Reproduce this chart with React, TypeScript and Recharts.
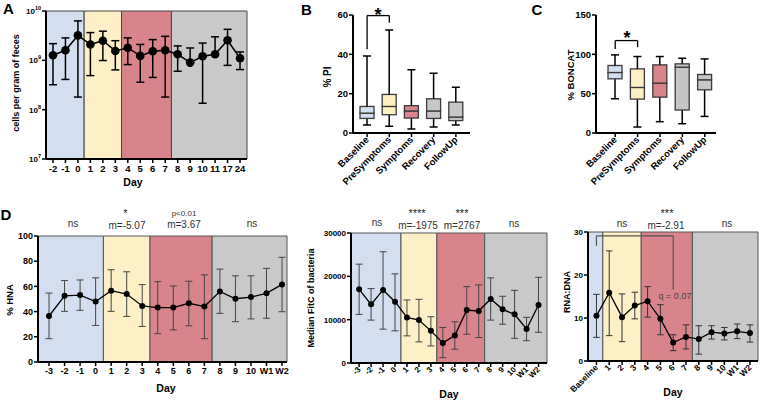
import React from "react";
import {
  LineChart,
  Line,
  XAxis,
  YAxis,
  ErrorBar,
  ReferenceArea,
  ReferenceLine,
  BarChart,
  Bar,
} from "recharts";

const FONT = '"Liberation Sans", Arial, Helvetica, sans-serif';

// ---- A: total cells per gram of feces ----
const A_DAYS = ["-2", "-1", "0", "1", "2", "3", "4", "5", "6", "7", "8", "9", "10", "11", "17", "24"];
const A_MEAN = [1.27e9, 1.6e9, 3.2e9, 2.1e9, 2.5e9, 1.55e9, 1.8e9, 1.23e9, 1.53e9, 1.6e9, 1.33e9, 9.0e8, 1.21e9, 1.33e9, 2.55e9, 1.1e9];
const A_LOW = [3.2e8, 4.1e8, 1.8e8, 4.9e8, 9.9e8, 6.4e8, 8.2e8, 3.6e8, 4.5e8, 1.8e8, 6.0e8, 9.0e8, 1.35e8, 1.33e9, 7.9e8, 6.5e8];
const A_HIGH = [2.18e9, 2.85e9, 6.3e9, 3.65e9, 3.9e9, 2.5e9, 2.85e9, 2.1e9, 2.63e9, 3.07e9, 1.96e9, 1.78e9, 2.24e9, 3.0e9, 4.25e9, 1.48e9];
const A_PHASES = [["-2", "0"], ["1", "3"], ["4", "7"], ["8", "24"]];

// ---- B / C: box plots per phase ----
const GROUPS = ["Baseline", "PreSymptoms", "Symptoms", "Recovery", "FollowUp"];
const PI_MIN = [4.1, 3.4, 2.0, 3.0, 4.1];
const PI_Q1 = [7.4, 9.3, 7.6, 7.4, 6.3];
const PI_MED = [10.1, 13.5, 11.2, 11.2, 8.1];
const PI_Q3 = [13.5, 19.6, 13.9, 17.4, 15.7];
const PI_MAX = [39.2, 52.4, 32.1, 30.4, 23.2];

const BC_MIN = [43.5, 7.6, 14.4, 11.8, 21.1];
const BC_Q1 = [68.9, 43.1, 45.6, 29.2, 54.9];
const BC_MED = [76.9, 57.9, 63.4, 83.7, 67.6];
const BC_Q3 = [85.8, 81.5, 86.6, 87.9, 74.4];
const BC_MAX = [99.3, 97.2, 97.2, 95.0, 94.2];

const PI_BRACKET = [
  { x: "Baseline", y: 42.6 },
  { x: "Baseline", y: 59.7 },
  { x: "PreSymptoms", y: 59.7 },
  { x: "PreSymptoms", y: 56.1 },
];
const BC_BRACKET = [
  { x: "Baseline", y: 106.9 },
  { x: "Baseline", y: 117.5 },
  { x: "PreSymptoms", y: 117.5 },
  { x: "PreSymptoms", y: 109 },
];

// ---- D: time courses ----
const D_DAYS = ["-3", "-2", "-1", "0", "1", "2", "3", "4", "5", "6", "7", "8", "9", "10", "W1", "W2"];
const D_PHASES = [["-3", "0"], ["1", "3"], ["4", "7"], ["8", "W2"]];

const HNA_MEAN = [36.5, 52.5, 53.1, 48.0, 56.6, 53.9, 44.5, 43.2, 43.2, 46.6, 44.0, 56.0, 50.2, 51.5, 54.5, 61.6];
const HNA_LOW = [18.5, 40.2, 41.0, 29.0, 40.2, 36.2, 28.2, 22.5, 25.5, 28.7, 18.5, 38.6, 32.0, 34.2, 34.7, 39.9];
const HNA_HIGH = [54.7, 64.6, 65.1, 66.8, 73.2, 71.6, 61.4, 63.8, 60.3, 64.1, 69.2, 73.7, 68.4, 68.4, 74.3, 83.1];

const FITC_MEAN = [17010, 13530, 16860, 14150, 10520, 9900, 7420, 4640, 6340, 12220, 11990, 14770, 12380, 11230, 7850, 13390];
const FITC_LOW = [11210, 9900, 7810, 7420, 6260, 4870, 3940, 1240, 3170, 6650, 5880, 9900, 8950, 5690, 5150, 7080];
const FITC_HIGH = [22810, 17170, 25670, 20570, 14540, 14690, 10670, 8200, 9510, 17630, 18020, 19640, 15400, 16770, 10540, 19770];

const R_DAYS = ["Baseline", "1", "2", "3", "4", "5", "6", "7", "8", "9", "10", "W1", "W2"];
const R_PHASES = [["Baseline", "Baseline"], ["1", "3"], ["4", "7"], ["8", "W2"]];
const RD_MEAN = [10.5, 15.9, 10.2, 12.9, 13.9, 9.8, 4.3, 5.6, 5.1, 6.7, 6.4, 6.9, 6.5];
const RD_LOW = [5.5, 5.9, 4.5, 9.8, 10.2, 6.1, 2.4, 2.8, 1.6, 5.1, 4.9, 5.2, 4.4];
const RD_HIGH = [15.5, 25.6, 15.6, 16.0, 17.3, 13.1, 6.1, 8.4, 8.2, 8.2, 7.8, 8.6, 8.4];
const RD_BRACKET = [
  { day: "Baseline", y: 26.8 },
  { day: "Baseline", y: 29.1 },
  { day: "6", y: 29.1 },
  { day: "6", y: 16.6 },
];

const PHASE_COLORS = ["#d3dff1", "#fef0c6", "#d8848a", "#c9c9c9"];
const BOX_COLORS = ["#d3dff1", "#fdefc4", "#d8848a", "#c6c6c6", "#c6c6c6"];

const AX = { stroke: "#000", strokeWidth: 2 };
const TL = { stroke: "#000", strokeWidth: 1.5 };
const tickStyle = (size: number) => ({ fontSize: size, fontWeight: 700, fill: "#000", fontFamily: FONT });

function PowTick(props: any) {
  const { x, y, payload } = props;
  const exp = Math.round(Math.log10(payload.value));
  return (
    <text x={x} y={y} dy={3} textAnchor="end" fontFamily={FONT} fontWeight={700} fontSize={8} fill="#000">
      <tspan>10</tspan>
      <tspan dy={-4} fontSize={5.5}>{exp}</tspan>
    </text>
  );
}

function RotTick(props: any) {
  const { x, y, payload, labels, size } = props;
  const text = labels ? labels[payload.value] : payload.value;
  return (
    <g transform={`translate(${x},${y})`}>
      <text x={0} y={0} dy="0.35em" textAnchor="end" transform="rotate(-45)" fontFamily={FONT} fontWeight={700} fontSize={size} fill="#000">
        {text}
      </text>
    </g>
  );
}

function phaseAreas(labels: string[], phases: string[][], domain: number[], yDomain: number[], stroke: string) {
  return phases.map(([a, b], k) => (
    <ReferenceArea
      key={`ph-${k}`}
      x1={k === 0 ? domain[0] : labels.indexOf(a) - 0.5}
      x2={k === phases.length - 1 ? domain[1] : labels.indexOf(b) + 0.5}
      y1={yDomain[0]}
      y2={yDomain[1]}
      fill={PHASE_COLORS[k]}
      fillOpacity={1}
      stroke={stroke}
      strokeWidth={1}
    />
  ));
}

function TimeCourse(p: any) {
  const rows = p.labels.map((_: string, i: number) => ({
    i,
    v: p.mean[i],
    err: [p.mean[i] - p.low[i], p.high[i] - p.mean[i]],
  }));
  return (
    <div style={{ position: "absolute", left: p.left, top: p.top }}>
      <LineChart width={p.width} height={p.height} data={rows} margin={p.margin}>
        {phaseAreas(p.labels, p.phases, p.xDomain, p.yDomain, p.frame)}
        {p.extra}
        <XAxis
          type="number"
          dataKey="i"
          domain={p.xDomain}
          ticks={rows.map((r: any) => r.i)}
          interval={0}
          allowDataOverflow
          height={p.xHeight}
          axisLine={AX}
          tickLine={TL}
          tickSize={4}
          tickMargin={p.rotate ? 1 : 2}
          tickFormatter={(v: number) => p.labels[v]}
          tick={p.rotate ? (t: any) => <RotTick {...t} labels={p.labels} size={p.xFont} /> : tickStyle(p.xFont)}
        />
        <YAxis
          type="number"
          scale={p.log ? "log" : "linear"}
          domain={p.yDomain}
          ticks={p.yTicks}
          interval={0}
          allowDataOverflow
          width={p.yWidth}
          axisLine={AX}
          tickLine={TL}
          tickSize={4}
          tickMargin={1}
          tick={p.log ? (t: any) => <PowTick {...t} /> : tickStyle(p.yFont)}
        />
        <Line
          dataKey="v"
          stroke="#000"
          strokeWidth={p.lineWidth}
          dot={{ r: p.dotR, fill: "#000", stroke: "#000", strokeWidth: 0 }}
          activeDot={false}
          isAnimationActive={false}
        >
          <ErrorBar dataKey="err" width={p.cap} strokeWidth={p.errWidth} stroke={p.errColor} direction="y" />
        </Line>
      </LineChart>
    </div>
  );
}

const whisker = (top: boolean) => (s: any) => {
  const cx = s.x + s.width / 2;
  const yc = top ? s.y : s.y + s.height;
  return (
    <g>
      <line x1={cx} x2={cx} y1={s.y} y2={s.y + s.height} stroke="#000" strokeWidth={1.5} />
      <line x1={cx - 4} x2={cx + 4} y1={yc} y2={yc} stroke="#000" strokeWidth={1.5} />
    </g>
  );
};

const boxPart = (s: any) => (
  <rect
    x={s.x}
    y={s.y}
    width={s.width}
    height={s.height}
    fill={BOX_COLORS[GROUPS.indexOf(s.payload.name)]}
    stroke="#3a3a3a"
    strokeWidth={1.3}
  />
);

function BoxPanel(p: any) {
  const rows = GROUPS.map((name, i) => ({
    name,
    base: p.min[i],
    w1: p.q1[i] - p.min[i],
    b1: p.med[i] - p.q1[i],
    b2: p.q3[i] - p.med[i],
    w2: p.max[i] - p.q3[i],
  }));
  return (
    <div style={{ position: "absolute", left: p.left, top: 0 }}>
      <BarChart width={p.width} height={190} data={rows} margin={p.margin} barSize={14}>
        <XAxis
          dataKey="name"
          type="category"
          interval={0}
          padding={p.pad}
          height={57}
          axisLine={AX}
          tickLine={TL}
          tickSize={4}
          tickMargin={1}
          tick={(t: any) => <RotTick {...t} size={9.5} />}
        />
        <YAxis
          type="number"
          domain={[0, p.yMax]}
          ticks={p.yTicks}
          interval={0}
          allowDataOverflow
          width={p.yWidth}
          axisLine={AX}
          tickLine={TL}
          tickSize={4}
          tickMargin={1}
          tick={tickStyle(9.5)}
        />
        <Bar dataKey="base" stackId="box" fill="transparent" isAnimationActive={false} />
        <Bar dataKey="w1" stackId="box" shape={whisker(false)} isAnimationActive={false} />
        <Bar dataKey="b1" stackId="box" shape={boxPart} isAnimationActive={false} />
        <Bar dataKey="b2" stackId="box" shape={boxPart} isAnimationActive={false} />
        <Bar dataKey="w2" stackId="box" shape={whisker(true)} isAnimationActive={false} />
        {p.bracket.slice(1).map((pt: any, k: number) => (
          <ReferenceLine
            key={`br-${k}`}
            segment={[p.bracket[k], pt]}
            stroke="#000"
            strokeWidth={1.3}
            ifOverflow="visible"
          />
        ))}
      </BarChart>
    </div>
  );
}

function Txt({ x, y, size = 10, bold = false, color = "#333", children }: any) {
  return (
    <text x={x} y={y} textAnchor="middle" fontFamily={FONT} fontSize={size} fontWeight={bold ? 700 : 400} fill={color}>
      {children}
    </text>
  );
}

function VTxt({ x, y, size = 9, children }: any) {
  return (
    <text
      transform={`translate(${x},${y}) rotate(-90)`}
      dy="0.35em"
      textAnchor="middle"
      fontFamily={FONT}
      fontSize={size}
      fontWeight={700}
      fill="#000"
    >
      {children}
    </text>
  );
}

export default function App() {
  const rdBracket = RD_BRACKET.map((b) => ({ x: R_DAYS.indexOf(b.day), y: b.y }));
  return (
    <div style={{ position: "absolute", left: 0, top: 0, width: 760, height: 402, background: "#fff", overflow: "hidden" }}>
      <TimeCourse
        left={0}
        top={0}
        width={260}
        height={195}
        margin={{ top: 11, right: 13, left: 0, bottom: 0 }}
        labels={A_DAYS}
        phases={A_PHASES}
        mean={A_MEAN}
        low={A_LOW}
        high={A_HIGH}
        xDomain={[-0.56, 15.56]}
        yDomain={[1e7, 1e10]}
        yTicks={[1e7, 1e8, 1e9, 1e10]}
        log
        yWidth={46}
        xHeight={36}
        xFont={9.5}
        frame="#444"
        lineWidth={1.5}
        dotR={4.3}
        cap={4}
        errWidth={1.5}
        errColor="#000"
      />
      <BoxPanel
        left={260}
        width={230}
        margin={{ top: 15, right: 20, left: 0, bottom: 0 }}
        yWidth={93}
        pad={{ left: 3, right: 3 }}
        yMax={60}
        yTicks={[0, 20, 40, 60]}
        min={PI_MIN}
        q1={PI_Q1}
        med={PI_MED}
        q3={PI_Q3}
        max={PI_MAX}
        bracket={PI_BRACKET}
      />
      <BoxPanel
        left={510}
        width={250}
        margin={{ top: 15, right: 44, left: 0, bottom: 0 }}
        yWidth={86}
        pad={{ left: 8, right: 0 }}
        yMax={150}
        yTicks={[0, 50, 100, 150]}
        min={BC_MIN}
        q1={BC_Q1}
        med={BC_MED}
        q3={BC_Q3}
        max={BC_MAX}
        bracket={BC_BRACKET}
      />
      <TimeCourse
        left={0}
        top={200}
        width={295}
        height={202}
        margin={{ top: 36, right: 8, left: 0, bottom: 0 }}
        labels={D_DAYS}
        phases={D_PHASES}
        mean={HNA_MEAN}
        low={HNA_LOW}
        high={HNA_HIGH}
        xDomain={[-0.71, 15.32]}
        yDomain={[0, 100]}
        yTicks={[0, 20, 40, 60, 80, 100]}
        yWidth={38}
        xHeight={40}
        xFont={9}
        yFont={9}
        frame="#555"
        lineWidth={1.3}
        dotR={3}
        cap={3.5}
        errWidth={1}
        errColor="#444"
      />
      <TimeCourse
        left={295}
        top={200}
        width={260}
        height={202}
        margin={{ top: 33, right: 8, left: 0, bottom: 0 }}
        labels={D_DAYS}
        phases={D_PHASES}
        mean={FITC_MEAN}
        low={FITC_LOW}
        high={FITC_HIGH}
        xDomain={[-0.68, 15.71]}
        yDomain={[0, 30000]}
        yTicks={[0, 10000, 20000, 30000]}
        yWidth={56}
        xHeight={39}
        xFont={8}
        yFont={8}
        rotate
        frame="#555"
        lineWidth={1.3}
        dotR={3}
        cap={3.5}
        errWidth={1}
        errColor="#444"
      />
      <TimeCourse
        left={555}
        top={200}
        width={205}
        height={202}
        margin={{ top: 32, right: 2, left: 0, bottom: 0 }}
        labels={R_DAYS}
        phases={R_PHASES}
        mean={RD_MEAN}
        low={RD_LOW}
        high={RD_HIGH}
        xDomain={[-0.66, 12.63]}
        yDomain={[0, 30]}
        yTicks={[0, 10, 20, 30]}
        yWidth={33}
        xHeight={41}
        xFont={8.5}
        yFont={8}
        rotate
        frame="#555"
        lineWidth={1.3}
        dotR={3}
        cap={3.25}
        errWidth={1}
        errColor="#333"
        extra={rdBracket.slice(1).map((pt, k) => (
          <ReferenceLine
            key={`rb-${k}`}
            segment={[rdBracket[k], pt]}
            stroke="#555"
            strokeWidth={1.2}
            ifOverflow="visible"
          />
        ))}
      />
      <svg width={760} height={402} style={{ position: "absolute", left: 0, top: 0, pointerEvents: "none" }}>
        <Txt x={8.5} y={14} size={15} bold color="#000">A</Txt>
        <Txt x={306.5} y={15} size={15} bold color="#000">B</Txt>
        <Txt x={537} y={15} size={15} bold color="#000">C</Txt>
        <Txt x={6} y={219.5} size={15} bold color="#000">D</Txt>

        <VTxt x={16} y={83} size={9}>cells per gram of feces</VTxt>
        <VTxt x={327.5} y={77} size={10}>% PI</VTxt>
        <VTxt x={570.5} y={75} size={9.5}>% BONCAT</VTxt>
        <VTxt x={10} y={300} size={9.5}>% HNA</VTxt>
        <VTxt x={311} y={298} size={9}>Median FitC of bacteria</VTxt>
        <VTxt x={567} y={292} size={9}>RNA:DNA</VTxt>

        <Txt x={133} y={186} size={10.5} bold color="#000">Day</Txt>
        <Txt x={166} y={392} size={10.5} bold color="#000">Day</Txt>
        <Txt x={449} y={398} size={10.5} bold color="#000">Day</Txt>
        <Txt x={673} y={396} size={10.5} bold color="#000">Day</Txt>

        <Txt x={378} y={21} size={18} bold color="#000">*</Txt>
        <Txt x={627} y={44} size={18} bold color="#000">*</Txt>

        <Txt x={73} y={227}>ns</Txt>
        <Txt x={125.5} y={217} size={11} color="#222">*</Txt>
        <Txt x={127} y={228.5}>m=-5.07</Txt>
        <Txt x={184} y={215.5} size={8}>p&lt;0.01</Txt>
        <Txt x={184} y={228}>m=3.67</Txt>
        <Txt x={252} y={227}>ns</Txt>

        <Txt x={377} y={226}>ns</Txt>
        <Txt x={417} y={217} size={11} color="#222">****</Txt>
        <Txt x={418} y={228.5}>m=-1975</Txt>
        <Txt x={462} y={217} size={11} color="#222">***</Txt>
        <Txt x={462} y={228.5}>m=2767</Txt>
        <Txt x={514} y={227}>ns</Txt>

        <Txt x={622} y={227}>ns</Txt>
        <Txt x={667} y={217} size={11} color="#222">***</Txt>
        <Txt x={666} y={228.5}>m=-2.91</Txt>
        <Txt x={727} y={227}>ns</Txt>

        <Txt x={675} y={299} size={9} color="#444">q = 0.07</Txt>
      </svg>
    </div>
  );
}
